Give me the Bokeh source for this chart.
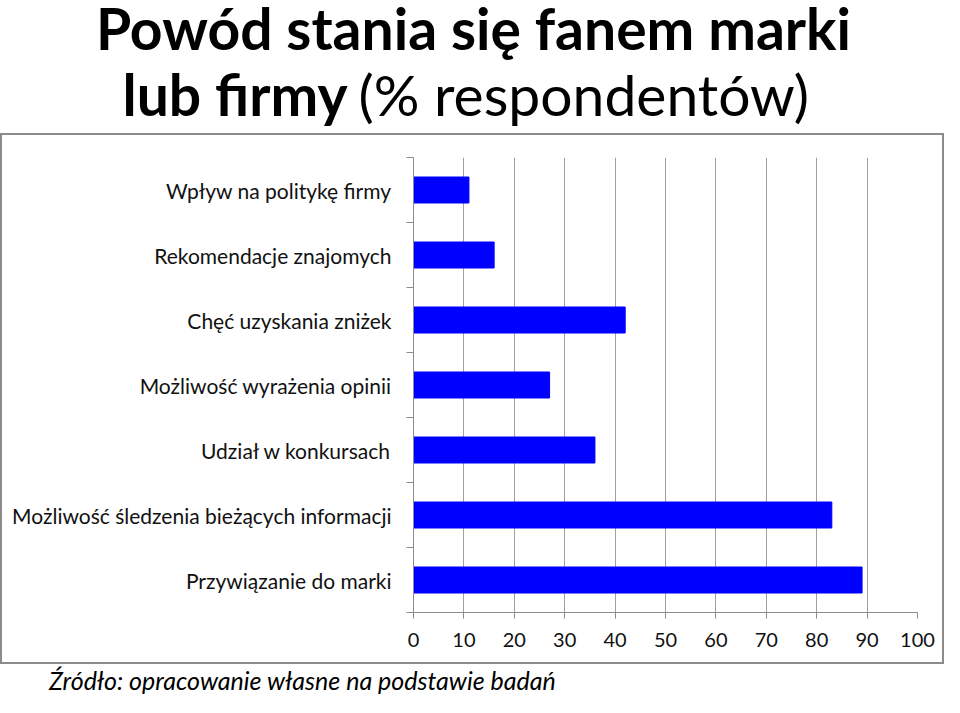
from bokeh.plotting import figure
from bokeh.layouts import column, row
from bokeh.models import Range1d, FixedTicker, ColumnDataSource
from bokeh.core.properties import value
from bokeh.embed import file_html
from bokeh.resources import INLINE

# ---- data ----
categories = [
    "Wpływ na politykę firmy",
    "Rekomendacje znajomych",
    "Chęć uzyskania zniżek",
    "Możliwość wyrażenia opinii",
    "Udział w konkursach",
    "Możliwość śledzenia bieżących informacji",
    "Przywiązanie do marki",
]
values = [11, 16, 42, 27, 36, 83, 89]
x_ticks = [0, 10, 20, 30, 40, 50, 60, 70, 80, 90, 100]
title_line1 = "Powód stania się fanem marki"
title_line2_bold = "lub firmy"
title_line2_regular = "(% respondentów)"
source_note = "Źródło: opracowanie własne na podstawie badań"

FONT = "Lato"
W = 944
TITLE_H, CHART_H, FOOT_H = 133, 531, 33
B = 2  # chart box border width
GRAY = "#8c8c8c"


def text_panel(height):
    f = figure(width=W, height=height, x_range=Range1d(0, W), y_range=Range1d(height, 0),
               output_backend="svg", toolbar_location=None, min_border=0, title=None,
               x_axis_location=None, y_axis_location=None)
    f.grid.grid_line_color = None
    f.outline_line_color = None
    f.background_fill_color = "white"
    f.border_fill_color = "white"
    return f


# ---- title ----
t = text_panel(TITLE_H)
t.text(x=[473], y=[27], text=[title_line1], text_font=value(FONT), text_font_style="bold",
       text_font_size="57px", text_align="center", text_baseline="middle",
       text_color="#000000")
t.text(x=[347], y=[93], text=[title_line2_bold], text_font=value(FONT), text_font_style="bold",
       text_font_size="57px", text_align="right", text_baseline="middle",
       text_color="#000000")
t.text(x=[358], y=[93], text=[title_line2_regular], text_font=value(FONT),
       text_font_style="normal", text_font_size="57px", text_align="left",
       text_baseline="middle", text_color="#000000")

# ---- chart ----
n = len(categories)
ypos = [n - i - 0.5 for i in range(n)]
src = ColumnDataSource(dict(cat=categories, val=values, y=ypos))

p = figure(width=W - 2 * B, height=CHART_H - 2 * B, x_range=Range1d(0, 100), y_range=Range1d(0, n),
           output_backend="svg", toolbar_location=None, title=None,
           min_border_left=411, min_border_right=25,
           min_border_top=22, min_border_bottom=50)
p.outline_line_color = None
p.background_fill_color = "white"
p.border_fill_color = "white"

p.hbar(y="y", left=0, right="val", height=0.4, color="#0000FF", source=src)

p.xaxis.ticker = FixedTicker(ticks=x_ticks)
p.xaxis.axis_line_color = GRAY
p.xaxis.major_tick_line_color = GRAY
p.xaxis.major_tick_out = 6
p.xaxis.major_tick_in = 0
p.xaxis.minor_tick_line_color = None
p.xaxis.major_label_text_font = FONT
p.xaxis.major_label_text_font_size = "20px"
p.xaxis.major_label_text_color = "#111111"
p.xaxis.major_label_standoff = 14

p.xgrid.ticker = FixedTicker(ticks=x_ticks)
p.xgrid.grid_line_color = "#a0a0a0"
p.ygrid.grid_line_color = None

p.yaxis.ticker = FixedTicker(ticks=ypos, minor_ticks=list(range(n + 1)))
p.yaxis.major_label_overrides = {y: c for y, c in zip(ypos, categories)}
p.yaxis.axis_line_color = GRAY
p.yaxis.major_tick_line_color = None
p.yaxis.major_tick_out = 0
p.yaxis.major_tick_in = 0
p.yaxis.minor_tick_line_color = GRAY
p.yaxis.minor_tick_out = 7
p.yaxis.minor_tick_in = 0
p.yaxis.major_label_text_font = FONT
p.yaxis.major_label_text_font_size = "21px"
p.yaxis.major_label_text_color = "#111111"
p.yaxis.major_label_standoff = 15

chart_box = column(p, styles={"border": f"{B}px solid {GRAY}"})

# ---- footer ----
fo = text_panel(FOOT_H)
fo.text(x=[302], y=[15], text=[source_note], text_font=value(FONT), text_font_style="italic",
        text_font_size="25px", text_align="center", text_baseline="middle",
        text_color="#000000")

layout = column(row(t), chart_box, row(fo), spacing=0)
open("out.html", "w").write(file_html(layout, INLINE))
